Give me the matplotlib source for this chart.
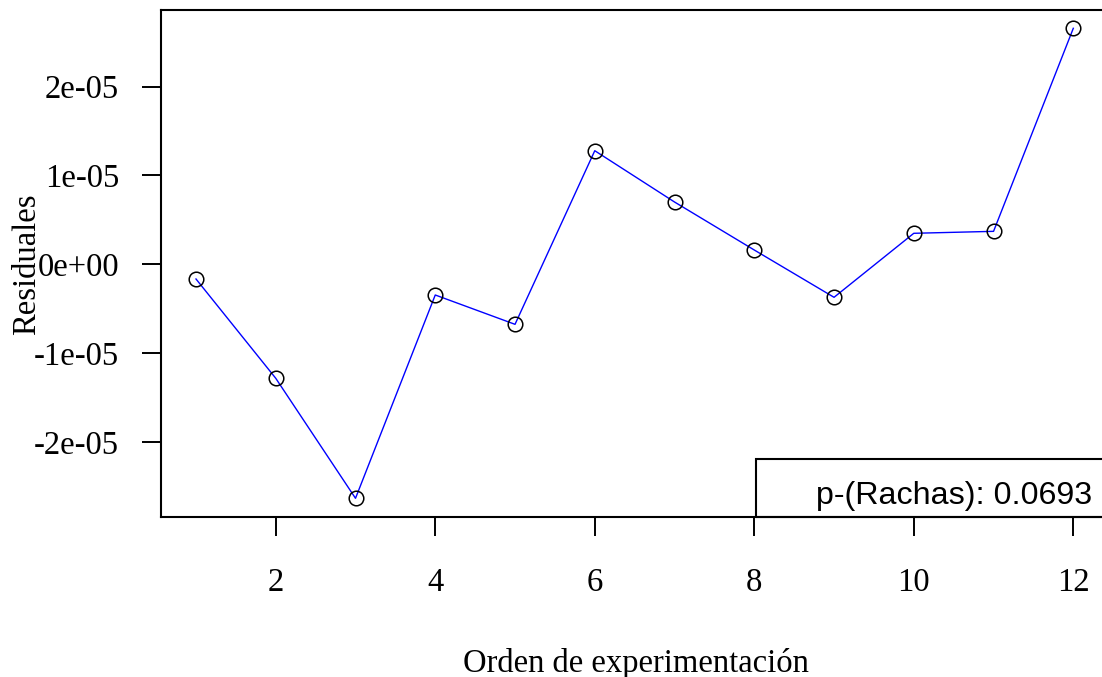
import matplotlib
matplotlib.use("Agg")
import matplotlib.pyplot as plt
from matplotlib.patches import Rectangle

# Data
orden = list(range(1, 13))
residuales = [-0.165e-05, -1.282e-05, -2.632e-05, -0.345e-05, -0.675e-05, 1.278e-05,
              0.701e-05, 0.161e-05, -0.371e-05, 0.349e-05, 0.371e-05, 2.655e-05]
xticks = [2, 4, 6, 8, 10, 12]
yticks = [-2e-05, -1e-05, 0.0, 1e-05, 2e-05]
ytick_labels = ["-2e-05", "-1e-05", "0e+00", "1e-05", "2e-05"]
legend_text = "p-(Rachas): 0.0693"
xlabel = "Orden de experimentación"
ylabel = "Residuales"

W, H = 1102, 677
fig = plt.figure(figsize=(W / 100, H / 100), dpi=100)

# axes placement in pixels
L, R, T, B = 160.9, 1108.4, 9.5, 517.1
ax = fig.add_axes([L / W, 1 - B / H, (R - L) / W, (B - T) / H])

serif = "Liberation Serif"
sans = "Liberation Sans"
fs = 23.5

ax.plot(orden, residuales, color="#0000ff", lw=1.0, zorder=2)
ax.plot(orden, residuales, ls="none", marker="o", markersize=10.5, markerfacecolor="none",
        markeredgecolor="black", markeredgewidth=1.1, zorder=3)

xlo, xhi = min(orden), max(orden)
ylo, yhi = min(residuales), max(residuales)
ax.set_xlim(xlo - 0.04 * (xhi - xlo), xhi + 0.04 * (xhi - xlo))
ax.set_ylim(ylo - 0.04 * (yhi - ylo), yhi + 0.04 * (yhi - ylo))

ax.set_xticks(xticks)
ax.set_xticklabels([str(v) for v in xticks], fontfamily=serif, fontsize=fs)
ax.set_yticks(yticks)
ax.set_yticklabels(ytick_labels, fontfamily=serif, fontsize=fs)
ax.tick_params(axis="x", length=14, width=1.4, pad=22, color="black")
ax.tick_params(axis="y", length=14, width=1.4, pad=16, color="black")
for s in ax.spines.values():
    s.set_linewidth(1.5)
    s.set_color("black")

# legend box (bottom right)
bx = (756 - L) / (R - L)
by = (B - 459) / (B - T)
ax.add_patch(Rectangle((bx, 0), 1 - bx, by, transform=ax.transAxes, fill=False,
                       edgecolor="black", lw=1.5, clip_on=False, zorder=4))
fig.text(816 / W, 1 - 504 / H, legend_text, ha="left", va="baseline",
         fontfamily=sans, fontsize=23.2)

fig.text(635.5 / W, 1 - 671.7 / H, xlabel, ha="center", va="baseline",
         fontfamily=serif, fontsize=fs)
fig.text(35.5 / W, 1 - 264 / H, ylabel, ha="center", va="baseline", rotation=90,
         rotation_mode="anchor", fontfamily=serif, fontsize=fs)

fig.savefig("out.png", dpi=100)
